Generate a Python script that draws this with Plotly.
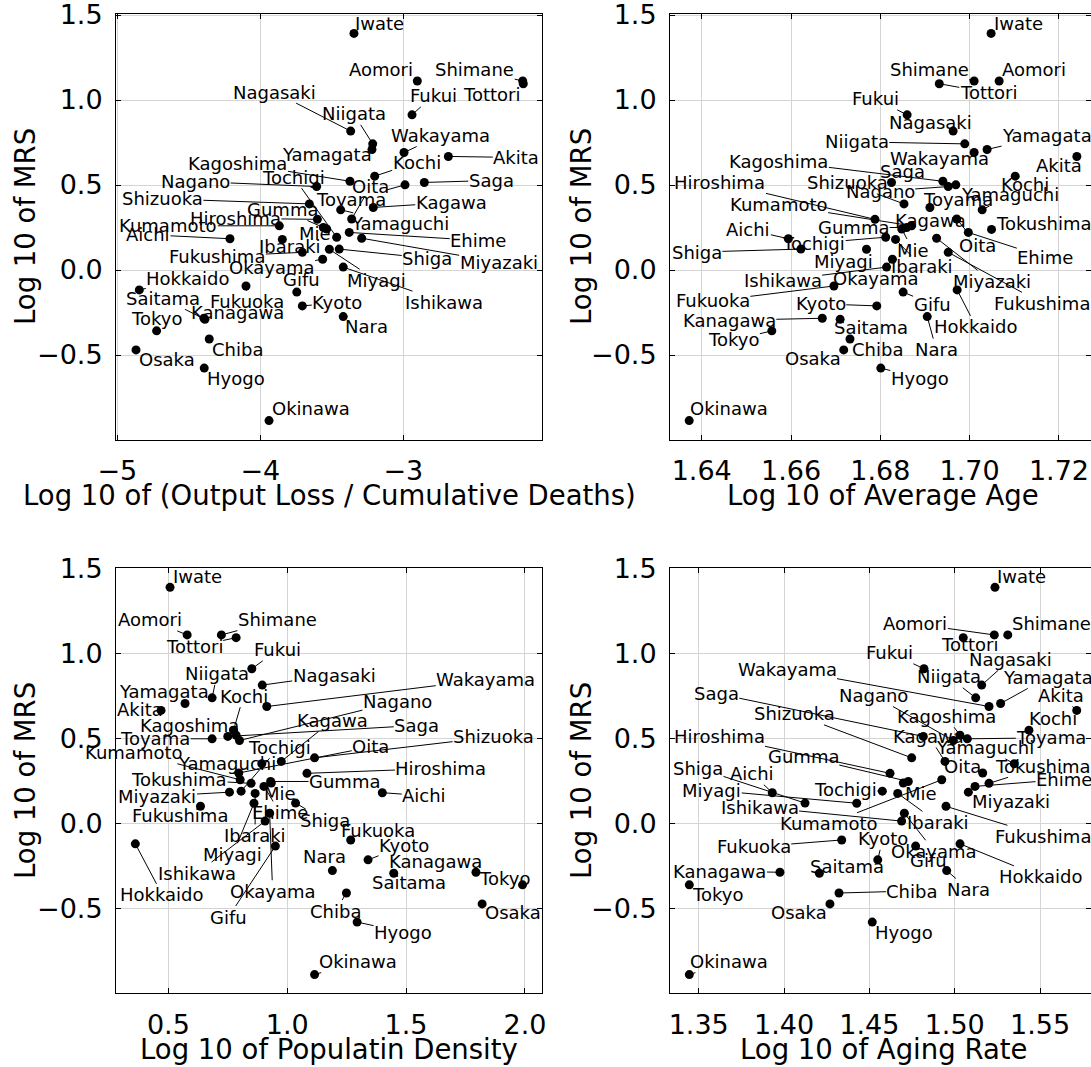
import plotly.graph_objects as go

# ---------------- data ----------------
prefectures = ["Hokkaido", "Aomori", "Iwate", "Miyagi", "Akita", "Yamagata", "Fukushima",
               "Ibaraki", "Tochigi", "Gumma", "Saitama", "Chiba", "Tokyo", "Kanagawa",
               "Niigata", "Toyama", "Ishikawa", "Fukui", "Nagano", "Gifu", "Shizuoka",
               "Aichi", "Mie", "Shiga", "Kyoto", "Osaka", "Hyogo", "Nara", "Wakayama",
               "Tottori", "Shimane", "Okayama", "Hiroshima", "Yamaguchi", "Tokushima",
               "Kagawa", "Ehime", "Kochi", "Fukuoka", "Saga", "Nagasaki", "Kumamoto",
               "Oita", "Miyazaki", "Kagoshima", "Okinawa"]

log_mrs = [-0.117, 1.112, 1.392, 0.122, 0.668, 0.709, 0.104,
           0.180, 0.193, 0.250, -0.290, -0.406, -0.358, -0.284,
           0.742, 0.501, 0.017, 0.913, 0.491, -0.130, 0.389,
           0.184, 0.241, 0.123, -0.211, -0.470, -0.577, -0.274, 0.691,
           1.096, 1.112, 0.063, 0.298, 0.354, 0.239,
           0.368, 0.221, 0.552, -0.094, 0.515, 0.817, 0.260,
           0.300, 0.187, 0.522, -0.886]

log_output_loss_per_death = [-4.846, -2.902, -3.345, -3.517, -2.685, -3.219, -3.706,
                             -3.846, -3.466, -3.559, -4.387, -4.357, -4.725, -4.394,
                             -3.214, -2.988, -3.420, -2.939, -3.606, -3.745, -3.657,
                             -4.212, -3.536, -3.448, -3.706, -4.869, -4.392, -3.420, -2.995,
                             -2.161, -2.165, -3.564, -3.601, -3.438, None,
                             -3.210, -3.378, -3.200, -4.100, -2.853, -3.368, -3.867,
                             -3.361, -3.291, -3.373, -3.939]

log_average_age = [1.6972, 1.7066, 1.7048, 1.6769, 1.7240, 1.7039, 1.6952,
                   1.6834, 1.6812, 1.6859, 1.6710, 1.6732, 1.6557, 1.6670,
                   1.6989, 1.6969, 1.6814, 1.6860, 1.6952, 1.6851, 1.6853,
                   1.6594, 1.6848, 1.6622, 1.6792, 1.6718, 1.6801, 1.6905, 1.7010,
                   1.6932, 1.7010, 1.6827, 1.6788, 1.7028, 1.7049,
                   1.6911, 1.6997, 1.7102, 1.6696, 1.6825, 1.6963, 1.6870,
                   1.6971, 1.6926, 1.6940, 1.6372]

log_population_density = [0.361, 0.579, 0.507, 0.860, 0.469, 0.570, 0.635,
                          0.865, 0.806, 0.930, 1.448, 1.249, 1.990, 1.794,
                          0.684, 0.684, 0.907, 0.851, 0.799, 0.950, 1.115,
                          1.400, 0.933, 1.035, 1.340, 1.820, 1.294, 1.190, 0.914,
                          0.785, 0.723, 0.926, 1.083, 0.893, 0.848,
                          0.975, 0.902, 0.774, 1.267, 0.750, 0.895, 0.802,
                          0.796, 0.757, 0.785, 1.115]

log_aging_rate = [1.5031, 1.5232, 1.5236, 1.4426, 1.5715, 1.5269, 1.4949,
                  1.4666, 1.4576, 1.4728, 1.4207, 1.4322, 1.3445, 1.3976,
                  1.5123, 1.5074, 1.4689, 1.4820, 1.4992, 1.4771, 1.4748,
                  1.3931, 1.4699, 1.4123, 1.4549, 1.4269, 1.4517, 1.4953, 1.5201,
                  1.5050, 1.5311, 1.4705, 1.4621, 1.5349, 1.5201,
                  1.4943, 1.5119, 1.5435, 1.4338, 1.4816, 1.5158, 1.4924,
                  1.5164, 1.5080, 1.5031, 1.3445]

# ---------------- label placement (pixel offsets of label centre from its point) ----------------
offsets_p1 = {
    "Iwate": (26, -10), "Aomori": (-36, -11), "Shimane": (-48, -11), "Tottori": (-32, 11),
    "Fukui": (21, -19), "Nagasaki": (-76, -39), "Niigata": (-19, -30), "Yamagata": (-45, 5),
    "Wakayama": (36, -17), "Akita": (68, 1), "Kochi": (42, -14), "Kagoshima": (-112, -18),
    "Saga": (67, -2), "Toyama": (-54, 15), "Nagano": (-121, -5), "Tochigi": (-43, -60),
    "Yamaguchi": (59, 14), "Oita": (19, -33), "Shizuoka": (-147, -5), "Kagawa": (78, -5),
    "Gumma": (-41, -18), "Hiroshima": (-82, -1), "Kumamoto": (-111, 0), "Mie": (-12, 4),
    "Aichi": (-82, -4), "Ehime": (129, 8), "Miyazaki": (137, 24), "Ibaraki": (8, 7),
    "Fukushima": (-85, 4), "Shiga": (88, 9), "Miyagi": (47, 31), "Okayama": (-51, 8),
    "Ishikawa": (101, 35), "Hokkaido": (49, -11), "Fukuoka": (1, 16), "Gifu": (5, -13),
    "Kyoto": (35, -3), "Nara": (23, 10), "Kanagawa": (34, -6), "Saitama": (-42, -21),
    "Tokyo": (0, -12), "Chiba": (28, 10), "Osaka": (31, 10), "Hyogo": (32, 10),
    "Okinawa": (42, -12),
}
offsets_p2 = {
    "Iwate": (27, -10), "Shimane": (-45, -11), "Aomori": (35, -11), "Tottori": (49, 9),
    "Fukui": (-32, -16), "Nagasaki": (-23, -9), "Niigata": (-108, -2), "Yamagata": (60, -14),
    "Wakayama": (-35, 6), "Akita": (-18, 9), "Kochi": (10, 8), "Kagoshima": (-164, -20),
    "Saga": (11, -11), "Toyama": (2, 15), "Nagano": (-68, 5), "Yamaguchi": (28, -15),
    "Shizuoka": (-57, -21), "Hiroshima": (-155, -37), "Kumamoto": (-133, -21), "Kagawa": (1, 13),
    "Oita": (21, 26), "Tokushima": (52, -6), "Gumma": (-53, 0), "Mie": (11, 21),
    "Ehime": (77, 25), "Aichi": (-40, -9), "Tochigi": (-72, 6), "Miyazaki": (55, 43),
    "Ibaraki": (26, 27), "Shiga": (-104, 3), "Miyagi": (-23, 12), "Fukushima": (94, 51),
    "Okayama": (-16, 19), "Ishikawa": (-104, 13), "Fukuoka": (-121, 15), "Hokkaido": (19, 37),
    "Gifu": (29, 12), "Kyoto": (-56, -2), "Nara": (9, 33), "Kanagawa": (-93, 2),
    "Saitama": (31, 8), "Tokyo": (-38, 9), "Chiba": (28, 10), "Osaka": (-31, 9),
    "Hyogo": (39, 10), "Okinawa": (40, -12),
}
offsets_p3 = {
    "Iwate": (27, -11), "Aomori": (-37, -15), "Shimane": (56, -15), "Tottori": (-42, 9),
    "Fukui": (26, -19), "Nagasaki": (72, -10), "Niigata": (5, -24), "Yamagata": (-21, -12),
    "Wakayama": (219, -27), "Akita": (-21, -1), "Kochi": (10, -34), "Kagoshima": (-47, -10),
    "Saga": (189, -11), "Toyama": (-57, 0), "Nagano": (158, -39), "Shizuoka": (179, -21),
    "Kagawa": (51, -41), "Yamaguchi": (-35, 0), "Oita": (132, -26), "Tochigi": (38, -44),
    "Kumamoto": (-106, -27), "Hiroshima": (134, -5), "Tokushima": (-72, -4), "Gumma": (74, 0),
    "Mie": (9, 10), "Ehime": (16, 26), "Miyazaki": (-72, 4), "Aichi": (42, 3),
    "Ibaraki": (0, 42), "Fukushima": (-20, 9), "Shiga": (29, 17), "Miyagi": (-21, 51),
    "Okayama": (3, 78), "Ishikawa": (-68, 52), "Hokkaido": (27, 51), "Gifu": (-47, 71),
    "Fukuoka": (27, -9), "Kyoto": (36, -14), "Nara": (-8, -14), "Kanagawa": (-40, -11),
    "Saitama": (15, 9), "Tokyo": (-18, -6), "Chiba": (-11, 18), "Osaka": (31, 9),
    "Hyogo": (46, 10), "Okinawa": (43, -13),
}
offsets_p4 = {
    "Iwate": (27, -11), "Aomori": (-79, -11), "Shimane": (44, -11), "Tottori": (6, 7),
    "Fukui": (-34, -16), "Nagasaki": (29, -26), "Niigata": (-27, -21), "Yamagata": (47, -26),
    "Wakayama": (-202, -37), "Akita": (-16, -15), "Kochi": (24, -12), "Saga": (-207, -43),
    "Kagoshima": (-14, -19), "Toyama": (84, -1), "Nagano": (-80, -45), "Shizuoka": (-117, -44),
    "Kagawa": (-16, -25), "Yamaguchi": (-29, -16), "Oita": (-20, -6), "Hiroshima": (-171, -37),
    "Gumma": (-105, -25), "Kumamoto": (-113, 44), "Mie": (18, 10), "Tokushima": (54, -17),
    "Ehime": (89, -7), "Shiga": (-107, -35), "Aichi": (-20, -19), "Miyagi": (-145, -13),
    "Tochigi": (-37, -2), "Miyazaki": (43, 9), "Ibaraki": (40, 29), "Ishikawa": (-142, -14),
    "Okayama": (30, 38), "Fukushima": (97, 30), "Fukuoka": (-88, 7), "Kyoto": (5, -21),
    "Hokkaido": (81, 33), "Gifu": (13, 14), "Nara": (22, 19), "Kanagawa": (-60, -1),
    "Saitama": (28, -7), "Tokyo": (28, 10), "Chiba": (73, -2), "Osaka": (-31, 9),
    "Hyogo": (32, 10), "Okinawa": (40, -13),
}

W, H = 1091, 1067
FONT = "DejaVu Sans"
TICK_SIZE = 27
TITLE_SIZE = 27.5
LABEL_SIZE = 18

panels = [
    dict(x=log_output_loss_per_death, xa="x", ya="y", off=offsets_p1,
         xtitle="Log 10 of (Output Loss / Cumulative Deaths)"),
    dict(x=log_average_age, xa="x2", ya="y2", off=offsets_p2, xtitle="Log 10 of Average Age"),
    dict(x=log_population_density, xa="x3", ya="y3", off=offsets_p3,
         xtitle="Log 10 of Populatin Density"),
    dict(x=log_aging_rate, xa="x4", ya="y4", off=offsets_p4, xtitle="Log 10 of Aging Rate"),
]

fig = go.Figure()
annotations = []
for p in panels:
    xs, ys, ns = [], [], []
    for n, xv, yv in zip(prefectures, p["x"], log_mrs):
        if xv is None:
            continue
        xs.append(xv); ys.append(yv); ns.append(n)
    fig.add_trace(go.Scatter(x=xs, y=ys, mode="markers", xaxis=p["xa"], yaxis=p["ya"],
                             marker=dict(color="black", size=9, line=dict(width=0)),
                             showlegend=False, hoverinfo="skip", cliponaxis=False))
    for n, xv, yv in zip(ns, xs, ys):
        dx, dy = p["off"].get(n, (20, -10))
        annotations.append(dict(x=xv, y=yv, xref=p["xa"], yref=p["ya"], text=n,
                                showarrow=True, ax=dx, ay=dy, arrowhead=0, arrowwidth=1,
                                arrowcolor="black", standoff=0, startstandoff=0,
                                borderpad=0, xanchor="center", yanchor="middle",
                                font=dict(family=FONT, size=LABEL_SIZE, color="black")))

# axis titles
def px2paper(px, py):
    return px / W, 1 - py / H

for (tx, ty, text, ang) in [
    (329, 495, panels[0]["xtitle"], 0), (883, 495, panels[1]["xtitle"], 0),
    (329, 1049, panels[2]["xtitle"], 0), (883, 1049, panels[3]["xtitle"], 0),
    (25, 227, "Log 10 of MRS", -90), (581, 227, "Log 10 of MRS", -90),
    (25, 781, "Log 10 of MRS", -90), (581, 781, "Log 10 of MRS", -90),
]:
    x, y = px2paper(tx, ty)
    annotations.append(dict(x=x, y=y, xref="paper", yref="paper", text=text, showarrow=False,
                            textangle=ang, xanchor="center", yanchor="middle",
                            font=dict(family=FONT, size=TITLE_SIZE, color="black")))

axis_common = dict(showline=True, linecolor="black", linewidth=1, mirror="ticks",
                   ticks="inside", ticklen=5, tickcolor="black", tickwidth=1,
                   showgrid=True, gridcolor="#d4d4d4", gridwidth=1, zeroline=False,
                   automargin=False, ticklabelstandoff=7, ticklabeloverflow="allow",
                   tickfont=dict(family=FONT, size=TICK_SIZE, color="black"))

top_row = [1 - 440 / H, 1 - 14 / H]
bot_row = [1 - 993.3 / H, 1 - 568.3 / H]
left_col = [116 / W, 542.3 / W]
right_col = [670 / W, 1.0]
yticks = [-0.5, 0.0, 0.5, 1.0, 1.5]

fig.update_layout(
    width=W, height=H, autosize=False,
    margin=dict(l=0, r=0, t=0, b=0, pad=0),
    paper_bgcolor="white", plot_bgcolor="white",
    font=dict(family=FONT, color="black"),
    xaxis=dict(domain=left_col, anchor="y", range=[-5.009, -2.028],
               tickvals=[-5, -4, -3], tickformat="d", **axis_common),
    yaxis=dict(domain=top_row, anchor="x", range=[-1.0, 1.506], tickvals=yticks,
               tickformat=".1f", **axis_common),
    xaxis2=dict(domain=right_col, anchor="y2", range=[1.6329, 1.72717],
                tickvals=[1.64, 1.66, 1.68, 1.70, 1.72], tickformat=".2f", **axis_common),
    yaxis2=dict(domain=top_row, anchor="x2", range=[-1.0, 1.506], tickvals=yticks,
                tickformat=".1f", **axis_common),
    xaxis3=dict(domain=left_col, anchor="y3", range=[0.2796, 2.0731],
                tickvals=[0.5, 1.0, 1.5, 2.0], tickformat=".1f", **axis_common),
    yaxis3=dict(domain=bot_row, anchor="x3", range=[-0.996, 1.504], tickvals=yticks,
                tickformat=".1f", **axis_common),
    xaxis4=dict(domain=right_col, anchor="y4", range=[1.33318, 1.57986],
                tickvals=[1.35, 1.40, 1.45, 1.50, 1.55], tickformat=".2f", **axis_common),
    yaxis4=dict(domain=bot_row, anchor="x4", range=[-0.996, 1.504], tickvals=yticks,
                tickformat=".1f", **axis_common),
    annotations=annotations,
)

fig.write_html("out.html")
